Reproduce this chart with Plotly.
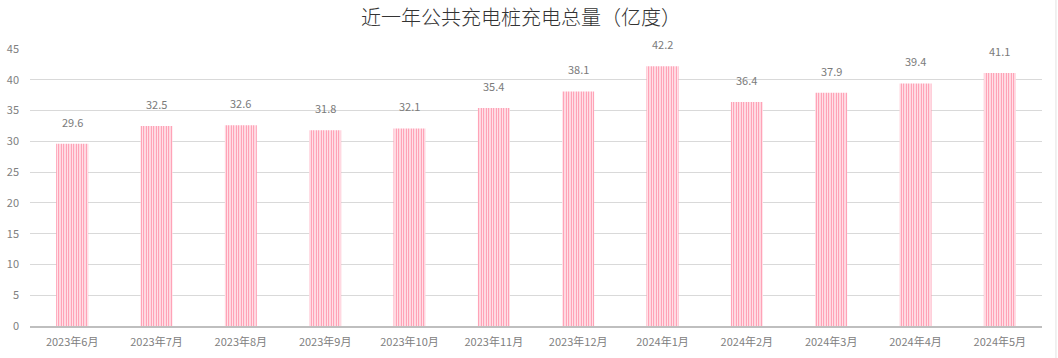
import plotly.graph_objects as go

categories = ["2023年6月", "2023年7月", "2023年8月", "2023年9月", "2023年10月", "2023年11月",
              "2023年12月", "2024年1月", "2024年2月", "2024年3月", "2024年4月", "2024年5月"]
values = [29.6, 32.5, 32.6, 31.8, 32.1, 35.4, 38.1, 42.2, 36.4, 37.9, 39.4, 41.1]
title_text = "近一年公共充电桩充电总量（亿度）"
y_ticks = [0, 5, 10, 15, 20, 25, 30, 35, 40, 45]

FONT = "Noto Sans CJK SC, Microsoft YaHei, sans-serif"

fig = go.Figure()
fig.add_trace(go.Bar(
    x=categories, y=values,
    width=0.38,
    marker=dict(
        color="white",
        line=dict(width=0),
        pattern=dict(shape="|", fgcolor="#ff88a2", bgcolor="white", size=2.5, solidity=0.5, fillmode="replace"),
    ),
    hoverinfo="x+y",
))

for c, v in zip(categories, values):
    fig.add_annotation(x=c, y=v, text=f"{v:.1f}", showarrow=False, yanchor="bottom", yshift=12,
                       font=dict(family=FONT, size=11, color="#7a7a7a"))

W, H, L, R, T, B = 1058, 358, 30, 16, 49, 32
fig.update_layout(
    width=W, height=H,
    margin=dict(l=L, r=R, t=T, b=B, pad=0),
    paper_bgcolor="white", plot_bgcolor="white",
    title=dict(text=title_text, x=0.4924, xref="container", xanchor="center", y=1 - 18 / H, yref="container",
               yanchor="middle",
               font=dict(family=FONT, size=20, color="#333", weight=300)),
    showlegend=False,
    xaxis=dict(showgrid=False, showline=True, linecolor="#bfbfbf",
               linewidth=2, ticks="", ticklabelstandoff=5, automargin=False,
               tickfont=dict(family=FONT, size=11, color="#808080"), fixedrange=True),
    yaxis=dict(range=[0, 45], tickvals=y_ticks, showgrid=True, gridcolor="#d9d9d9", gridwidth=1,
               zeroline=False, showline=False, ticks="", ticklabelstandoff=10, automargin=False,
               tickfont=dict(family=FONT, size=11, color="#808080"), fixedrange=True),
)
fig.add_shape(type="line", xref="paper", yref="paper", x0=1.0138, x1=1.0138, y0=-0.12, y1=1.2,
              line=dict(color="#e2e2e2", width=1))

fig.write_html("out.html", post_script="document.body.style.margin='0';", config={"displayModeBar": False})
